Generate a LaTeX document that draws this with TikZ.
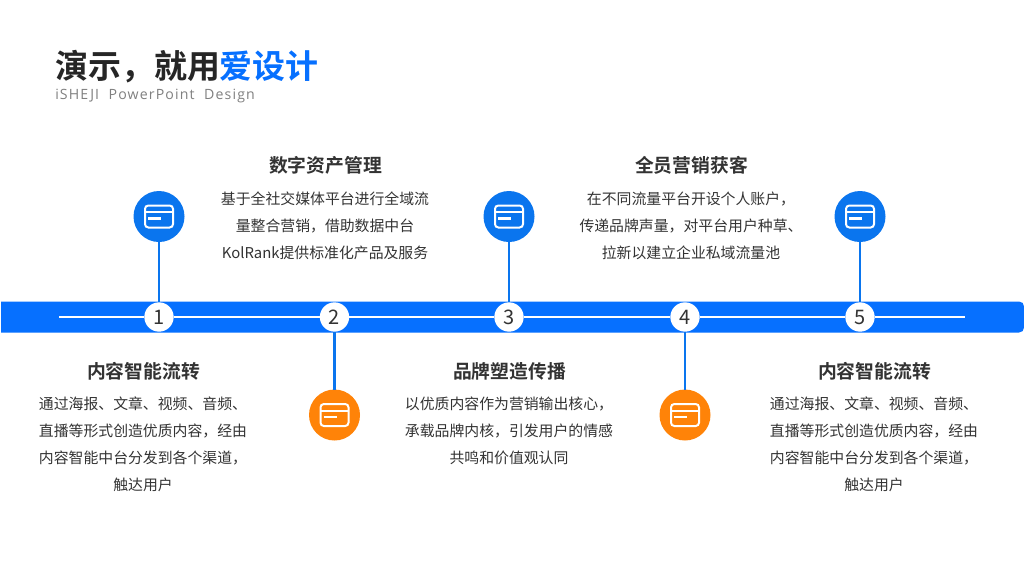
\documentclass[tikz,border=0pt]{standalone}
\usepackage{fontspec}
\setmainfont{Noto Sans CJK SC}[BoldFont={Noto Sans CJK SC Bold}]
\newfontfamily\latinlight{Open Sans}[LetterSpace=8]
\definecolor{barblue}{HTML}{0670FF}
\definecolor{iconblue}{HTML}{0A75EE}
\definecolor{iconorange}{HTML}{FF8308}
\definecolor{ink}{HTML}{333333}
\definecolor{titleink}{HTML}{262626}
\definecolor{subgrey}{HTML}{808080}
\tikzset{
  x=0.75pt,y=-0.75pt,
  badge/.style={circle,fill=#1,minimum size=38.25pt,inner sep=0pt,outer sep=0pt},
  numdot/.style={circle,fill=white,minimum size=22pt,inner sep=0pt,outer sep=0pt,text=ink,font=\fontsize{15}{18}\selectfont},
  bodytext/.style={align=center,text=ink,anchor=north,inner sep=0pt,font=\fontsize{11.15}{20.25}\selectfont},
  headtext/.style={text=ink,inner sep=0pt,font=\fontsize{14.1}{17}\selectfont\bfseries},
  stem/.style={iconblue,line width=1.9pt},
  rail/.style={white,line width=1.5pt},
  cardicon/.pic={
    \draw[white,line width=1.5pt,rounded corners=2.5pt] (-14,-11) rectangle (14,11);
    \draw[white,line width=1.5pt] (-14,-4.5) -- (14,-4.5);
    \draw[white,line width=1.6pt] (-11,2) -- (2,2);
  }
}
\begin{document}
\begin{tikzpicture}
\useasboundingbox (0,0) rectangle (1024,576);
\fill[white] (0,0) rectangle (1024,576);
% title
\node[anchor=west,inner sep=0pt,font=\fontsize{24.7}{30}\selectfont\bfseries,text=titleink] (title) at (55,67) {演示，就用\textcolor{barblue}{爱设计}};
\node[anchor=west,inner sep=0pt,font=\fontsize{10.6}{13}\latinlight,text=subgrey] (subtitle) at (55,96) {iSHEJI\ \ PowerPoint\ \ Design};
% bar
\fill[barblue] (1,301.5) -- (1019,301.5) .. controls (1022,301.5) and (1024,303.5) .. (1024,306.5) -- (1024,327.5) .. controls (1024,330.5) and (1022,332.5) .. (1019,332.5) -- (1,332.5) -- cycle;
\coordinate (railL) at (59,317);
\coordinate (railR) at (965,317);
% number dots
\node[numdot] (n1) at (159,317) {1};
\node[numdot] (n2) at (334.5,317) {2};
\node[numdot] (n3) at (509,317) {3};
\node[numdot] (n4) at (685,317) {4};
\node[numdot] (n5) at (860,317) {5};
\draw[rail] (railL) -- (n1);
\draw[rail] (n1) -- (n2);
\draw[rail] (n2) -- (n3);
\draw[rail] (n3) -- (n4);
\draw[rail] (n4) -- (n5);
\draw[rail] (n5) -- (railR);
% badges
\node[badge=iconblue] (b1) at (159,216.5) {};
\node[badge=iconblue] (b3) at (509,216.5) {};
\node[badge=iconblue] (b5) at (860,216.5) {};
\node[badge=iconorange] (b2) at (334.5,415) {};
\node[badge=iconorange] (b4) at (685,415) {};
\pic at (b1) {cardicon};
\pic at (b2) {cardicon};
\pic at (b3) {cardicon};
\pic at (b4) {cardicon};
\pic at (b5) {cardicon};
\draw[stem] (b1) -- (n1);
\draw[stem] (n2) -- (b2);
\draw[stem] (b3) -- (n3);
\draw[stem] (n4) -- (b4);
\draw[stem] (b5) -- (n5);
% upper texts
\node[headtext] (h2) at (325.5,165) {数字资产管理};
\node[bodytext] (t2) at (325,192) {基于全社交媒体平台进行全域流\\量整合营销，借助数据中台\\KolRank提供标准化产品及服务};
\node[headtext] (h4) at (691.5,165) {全员营销获客};
\node[bodytext] (t4) at (691,192) {在不同流量平台开设个人账户，\\传递品牌声量，对平台用户种草、\\拉新以建立企业私域流量池};
% lower texts
\node[headtext] (h1) at (143.5,371) {内容智能流转};
\node[bodytext] (t1) at (143,397) {通过海报、文章、视频、音频、\\直播等形式创造优质内容，经由\\内容智能中台分发到各个渠道，\\触达用户};
\node[headtext] (h3) at (509.5,371) {品牌塑造传播};
\node[bodytext] (t3) at (509,397) {以优质内容作为营销输出核心，\\承载品牌内核，引发用户的情感\\共鸣和价值观认同};
\node[headtext] (h5) at (874.5,371) {内容智能流转};
\node[bodytext] (t5) at (874,397) {通过海报、文章、视频、音频、\\直播等形式创造优质内容，经由\\内容智能中台分发到各个渠道，\\触达用户};
\end{tikzpicture}
\end{document}
